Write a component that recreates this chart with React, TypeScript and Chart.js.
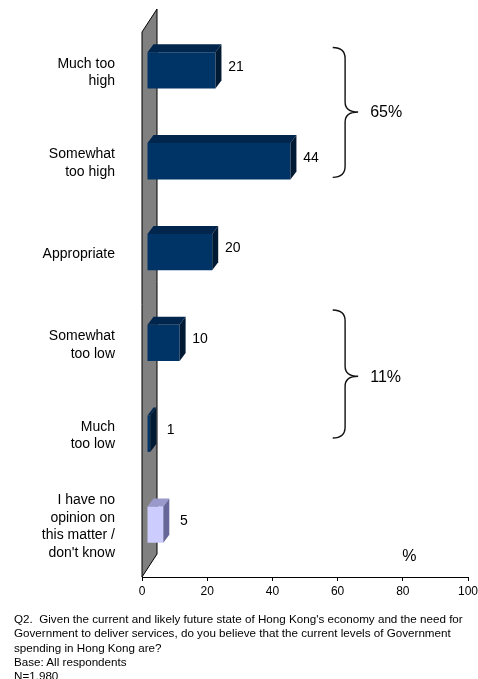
import React, { useEffect, useRef } from 'react';
import { Chart, registerables } from 'chart.js';

Chart.register(...registerables);

const FONT = "Arial, 'Liberation Sans', Helvetica, sans-serif";

const categories: (string | string[])[] = [
  ['Much too', 'high'],
  ['Somewhat', 'too high'],
  'Appropriate',
  ['Somewhat', 'too low'],
  ['Much', 'too low'],
  ['I have no', 'opinion on', 'this matter /', "don't know"],
];
const values = [21, 44, 20, 10, 1, 5];
const frontColors = ['#003366', '#003366', '#003366', '#003366', '#003366', '#CCCCFF'];
const topColors = ['#00264D', '#00264D', '#00264D', '#00264D', '#00264D', '#9999CC'];
const sideColors = ['#001A33', '#001A33', '#001A33', '#001A33', '#001A33', '#666699'];
const xMin = 0;
const xMax = 100;
const xStep = 20;
const axisUnit = '%';

// Bracket annotations (span given in category-index units)
const braceLabels = ['65%', '11%'];
const braceTops = [-0.33, 2.56];
const braceTips = [0.38, 3.29];
const braceBottoms = [1.1, 3.97];

const footnoteLines = [
  "Q2.  Given the current and likely future state of Hong Kong's economy and the need for",
  'Government to deliver services, do you believe that the current levels of Government',
  'spending in Hong Kong are?',
  'Base: All respondents',
  'N=1,980',
];

const SHIFT_X = 5;
const SHIFT_Y = -7;
const DX = 6;
const DY = -8;
const WALL_DX = 15;
const WALL_DY = -23;

const threeDPlugin = {
  id: 'threeD',
  beforeDatasetsDraw(chart: any) {
    const { ctx, chartArea: a } = chart;
    ctx.save();
    ctx.beginPath();
    ctx.moveTo(a.left, a.bottom);
    ctx.lineTo(a.left, a.top);
    ctx.lineTo(a.left + WALL_DX, a.top + WALL_DY);
    ctx.lineTo(a.left + WALL_DX, a.bottom + WALL_DY);
    ctx.closePath();
    ctx.fillStyle = '#808080';
    ctx.fill();
    ctx.strokeStyle = '#000000';
    ctx.lineWidth = 1;
    ctx.stroke();
    ctx.restore();
    ctx.save();
    ctx.translate(SHIFT_X, SHIFT_Y);
  },
  afterDatasetsDraw(chart: any) {
    const ctx = chart.ctx;
    const meta = chart.getDatasetMeta(0);
    meta.data.forEach((bar: any, i: number) => {
      const p = bar.getProps(['x', 'y', 'base', 'height'], true);
      const x0 = Math.min(p.base, p.x);
      const x1 = Math.max(p.base, p.x);
      const yT = p.y - p.height / 2;
      const yB = p.y + p.height / 2;
      ctx.beginPath();
      ctx.moveTo(x0, yT);
      ctx.lineTo(x0 + DX, yT + DY);
      ctx.lineTo(x1 + DX, yT + DY);
      ctx.lineTo(x1, yT);
      ctx.closePath();
      ctx.fillStyle = topColors[i];
      ctx.fill();
      ctx.beginPath();
      ctx.moveTo(x1, yT);
      ctx.lineTo(x1 + DX, yT + DY);
      ctx.lineTo(x1 + DX, yB + DY);
      ctx.lineTo(x1, yB);
      ctx.closePath();
      ctx.fillStyle = sideColors[i];
      ctx.fill();
    });
    ctx.restore();
    ctx.save();
    ctx.font = `14px ${FONT}`;
    ctx.fillStyle = '#000000';
    ctx.textAlign = 'center';
    ctx.textBaseline = 'middle';
    meta.data.forEach((bar: any, i: number) => {
      const p = bar.getProps(['x', 'y'], true);
      ctx.fillText(String(values[i]), p.x + SHIFT_X + 20.5, p.y + SHIFT_Y - 3.5);
    });
    ctx.restore();
  },
  afterDraw(chart: any) {
    const { ctx, chartArea: a } = chart;
    const xs = chart.scales.x;
    const ys = chart.scales.y;
    ctx.save();
    const bx0 = xs.getPixelForValue(58.5);
    const bx1 = xs.getPixelForValue(62.3);
    const bxt = xs.getPixelForValue(66.3);
    const lx = xs.getPixelForValue(70);
    braceLabels.forEach((label, i) => {
      const top = ys.getPixelForValue(braceTops[i]);
      const tip = ys.getPixelForValue(braceTips[i]);
      const bot = ys.getPixelForValue(braceBottoms[i]);
      ctx.beginPath();
      ctx.moveTo(bx0, top);
      ctx.bezierCurveTo(bx0 + 8, top, bx1, top + 3, bx1, top + 11);
      ctx.lineTo(bx1, tip - 10);
      ctx.bezierCurveTo(bx1, tip - 3, bx1 + 5, tip, bxt, tip);
      ctx.bezierCurveTo(bx1 + 5, tip, bx1, tip + 3, bx1, tip + 10);
      ctx.lineTo(bx1, bot - 11);
      ctx.bezierCurveTo(bx1, bot - 3, bx0 + 8, bot, bx0, bot);
      ctx.strokeStyle = '#111111';
      ctx.lineWidth = 1.4;
      ctx.stroke();
      ctx.font = `16px ${FONT}`;
      ctx.fillStyle = '#000000';
      ctx.textAlign = 'left';
      ctx.textBaseline = 'middle';
      ctx.fillText(label, lx, tip + 1);
    });
    ctx.font = `16px ${FONT}`;
    ctx.textAlign = 'center';
    ctx.textBaseline = 'middle';
    ctx.fillText(axisUnit, xs.getPixelForValue(82), a.bottom - 20);
    ctx.restore();
  },
};

export default function App() {
  const canvasRef = useRef<HTMLCanvasElement | null>(null);

  useEffect(() => {
    if (!canvasRef.current) return;
    const chart = new Chart(canvasRef.current, {
      type: 'bar',
      data: {
        labels: categories as any,
        datasets: [
          {
            data: values,
            backgroundColor: frontColors,
            borderWidth: 0,
            barPercentage: 0.4,
            categoryPercentage: 1,
          },
        ],
      },
      options: {
        indexAxis: 'y',
        responsive: false,
        animation: false,
        devicePixelRatio: 1,
        layout: { padding: { left: 0, top: 32, right: 10, bottom: 72 } },
        plugins: {
          legend: { display: false },
          tooltip: { enabled: false },
        },
        scales: {
          x: {
            type: 'linear',
            min: xMin,
            max: xMax,
            ticks: {
              stepSize: xStep,
              color: '#000000',
              font: { family: FONT, size: 12 },
              padding: 3,
              maxRotation: 0,
            },
            grid: {
              display: true,
              drawOnChartArea: false,
              drawTicks: true,
              tickLength: 4,
              color: '#000000',
            },
            border: { display: true, color: '#000000', width: 1 },
            afterFit: (scale: any) => {
              scale.height = 30;
              scale.paddingLeft = 0;
              scale.paddingRight = 0;
            },
          },
          y: {
            type: 'category',
            ticks: {
              color: '#000000',
              font: { family: FONT, size: 14, lineHeight: 1.25 },
              padding: 27,
              labelOffset: -5,
              autoSkip: false,
            },
            grid: { display: false, drawTicks: false },
            border: { display: false },
            afterFit: (scale: any) => {
              scale.width = 142;
              scale.paddingTop = 0;
              scale.paddingBottom = 0;
            },
          },
        },
      },
      plugins: [threeDPlugin],
    });
    return () => chart.destroy();
  }, []);

  return (
    <div style={{ position: 'absolute', left: 0, top: 0, width: 478, height: 679, overflow: 'hidden', background: '#ffffff' }}>
      <canvas ref={canvasRef} width={478} height={679} style={{ position: 'absolute', left: 0, top: 0, width: 478, height: 679 }} />
      <div
        style={{
          position: 'absolute',
          left: 14,
          top: 612,
          fontFamily: FONT,
          fontSize: 11.65,
          lineHeight: '14.3px',
          color: '#000000',
          whiteSpace: 'pre',
        }}
      >
        {footnoteLines.map((line, i) => (
          <div key={i}>{line}</div>
        ))}
      </div>
    </div>
  );
}
